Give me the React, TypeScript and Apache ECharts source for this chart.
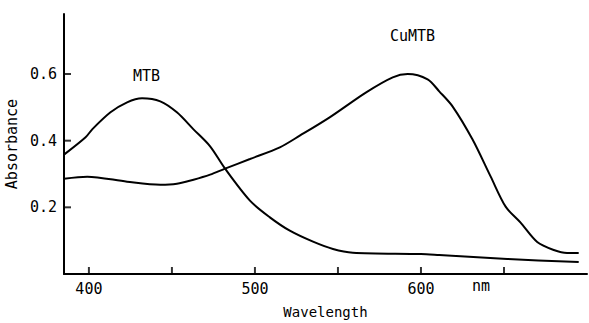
import React, { useEffect, useRef } from "react";
import * as echarts from "echarts";

const mtbWavelength = [385, 398, 402, 413, 423, 432, 443, 453, 463, 473, 482, 497, 509, 521, 535, 547, 559, 600, 611, 652, 695];
const mtbAbsorbance = [0.358, 0.41, 0.434, 0.485, 0.515, 0.527, 0.518, 0.485, 0.434, 0.383, 0.316, 0.22, 0.17, 0.13, 0.097, 0.075, 0.064, 0.06, 0.057, 0.045, 0.036];

const cuWavelength = [385, 399, 423, 443, 453, 463, 473, 482, 497, 515, 527, 545, 567, 583, 592, 604, 611, 619, 631, 642, 651, 660, 670, 680, 688, 695];
const cuAbsorbance = [0.286, 0.292, 0.277, 0.268, 0.271, 0.283, 0.298, 0.316, 0.345, 0.38, 0.415, 0.47, 0.545, 0.59, 0.6, 0.584, 0.548, 0.503, 0.404, 0.292, 0.202, 0.154, 0.096, 0.072, 0.063, 0.063];

const xTicks = [400, 450, 500, 550, 600, 650];
const xLabels = [400, 500, 600];
const yTicks = [0.2, 0.4, 0.6];

const X_MIN = 385;
const X_MAX = 700;
const Y_MIN = 0;
const Y_MAX = 0.78;

const FONT = "DejaVu Sans Mono";

export default function App() {
  const ref = useRef<HTMLDivElement>(null);
  useEffect(() => {
    if (!ref.current) return;
    const chart = echarts.init(ref.current, null, { renderer: "svg" });
    const pair = (xs: number[], ys: number[]) => xs.map((x, i) => [x, ys[i]]);
    chart.setOption({
      animation: false,
      backgroundColor: "#ffffff",
      grid: { left: 64, top: 14, right: 2, bottom: 49, outerBoundsMode: "none", containLabel: false },
      xAxis: {
        type: "value",
        min: X_MIN,
        max: X_MAX,
        name: "Wavelength",
        nameLocation: "middle",
        nameGap: 31,
        nameTextStyle: { fontFamily: FONT, fontSize: 14, color: "#000" },
        axisLine: { show: true, lineStyle: { color: "#000", width: 2 } },
        axisTick: { show: false },
        axisLabel: { show: true, customValues: xLabels, fontFamily: FONT, fontSize: 15, color: "#000", margin: 7 },
        splitLine: { show: false },
      },
      yAxis: {
        type: "value",
        min: Y_MIN,
        max: Y_MAX,
        name: "Absorbance",
        nameLocation: "middle",
        nameGap: 40,
        nameTextStyle: { fontFamily: FONT, fontSize: 15, color: "#000" },
        axisLine: { show: true, lineStyle: { color: "#000", width: 2 } },
        axisTick: { show: false },
        axisLabel: {
          show: true,
          customValues: yTicks,
          fontFamily: FONT,
          fontSize: 15,
          color: "#000",
          margin: 7,
          formatter: (v: number) => v.toFixed(1),
        },
        splitLine: { show: false },
      },
      graphic: [
        { type: "text", left: 133, top: 68, style: { text: "MTB", fontFamily: FONT, fontSize: 15, fill: "#000" } },
        { type: "text", left: 390, top: 28, style: { text: "CuMTB", fontFamily: FONT, fontSize: 15, fill: "#000" } },
        { type: "text", left: 472, top: 278, style: { text: "nm", fontFamily: FONT, fontSize: 15, fill: "#000" } },
      ],
      series: [
        {
          type: "line",
          data: pair(mtbWavelength, mtbAbsorbance),
          smooth: 0.3,
          showSymbol: false,
          lineStyle: { color: "#000", width: 2 },
        },
        {
          type: "line",
          data: pair(cuWavelength, cuAbsorbance),
          smooth: 0.3,
          showSymbol: false,
          lineStyle: { color: "#000", width: 2 },
        },
        {
          type: "scatter",
          silent: true,
          symbol: "rect",
          symbolSize: [2, 8],
          symbolOffset: [0, -3],
          itemStyle: { color: "#000" },
          data: xTicks.map((v) => [v, Y_MIN]),
          clip: false,
          z: 10,
        },
        {
          type: "scatter",
          silent: true,
          symbol: "rect",
          symbolSize: [8, 2],
          symbolOffset: [3, 0],
          itemStyle: { color: "#000" },
          data: yTicks.map((v) => [X_MIN, v]),
          clip: false,
          z: 10,
        },
      ],
    });
    return () => chart.dispose();
  }, []);
  return <div ref={ref} style={{ position: "fixed", left: 0, top: 0, width: 589, height: 323 }} />;
}
